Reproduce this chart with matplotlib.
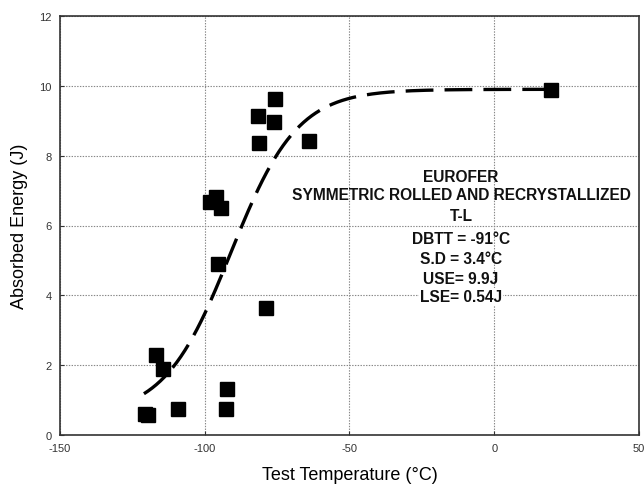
import numpy as np
import matplotlib
matplotlib.use("Agg")
import matplotlib.pyplot as plt

plt.rcParams['font.family'] = ['Liberation Sans', 'DejaVu Sans']
plt.rcParams['lines.scale_dashes'] = False
plt.rcParams['axes.unicode_minus'] = False

# Measured data (Test temperature in °C, absorbed energy in J)
temp = [-75.6, -81.6, -76.1, -81.3, -64.0, -98.3, -96.2, -94.5, -95.4,
        -78.7, -116.9, -114.4, -92.2, -92.8, -109.4, -120.7, -119.5, 19.7]
energy = [9.63, 9.15, 8.96, 8.36, 8.41, 6.66, 6.83, 6.51, 4.91,
          3.63, 2.29, 1.89, 1.31, 0.74, 0.74, 0.60, 0.57, 9.89]

# Tanh fit parameters
DBTT = -91.0
USE = 9.9
LSE = 0.54
C = 23.0
fit_range = (-121, 20)

xticks = [-150, -100, -50, 0, 50]
yticks = [0, 2, 4, 6, 8, 10, 12]

fig = plt.figure(figsize=(6.44, 4.89), dpi=100)
ax = fig.add_axes([60/644, 53/489, 579/644, 419/489])

T = np.linspace(fit_range[0], fit_range[1], 400)
E = LSE + (USE - LSE) / 2 * (1 + np.tanh((T - DBTT) / C))
ax.plot(T, E, color='black', lw=2.4, dashes=(20, 8), zorder=3)
ax.plot(temp, energy, 's', color='black', markersize=10, zorder=4)

ax.set_xlim(-150, 50)
ax.set_ylim(0, 12)
ax.set_xticks(xticks)
ax.set_yticks(yticks)
ax.grid(True, color='#888888', linestyle=(0, (1, 1)), linewidth=0.8)
ax.tick_params(direction='in', length=3, labelsize=8, colors='#333333', pad=6)
for s in ax.spines.values():
    s.set_color('#333333')
    s.set_linewidth(1.2)

ax.set_xlabel('Test Temperature (°C)', fontsize=13, labelpad=9)
ax.set_ylabel('Absorbed Energy (J)', fontsize=13, labelpad=8)

lines = [("EUROFER", 177), ("SYMMETRIC ROLLED AND RECRYSTALLIZED", 196),
         ("T-L", 217), ("DBTT = -91°C", 240), ("S.D = 3.4°C", 260),
         ("USE= 9.9J", 279), ("LSE= 0.54J", 298)]
for txt, ypx in lines:
    kw = {}
    if txt.startswith("LSE"):
        kw['bbox'] = dict(facecolor='white', edgecolor='none', pad=1)
    fig.text(461/644, 1 - ypx/489, txt, ha='center', va='center',
             fontsize=11.2, fontweight='bold', color='#111111', **kw)

fig.savefig('out.png', dpi=100)
